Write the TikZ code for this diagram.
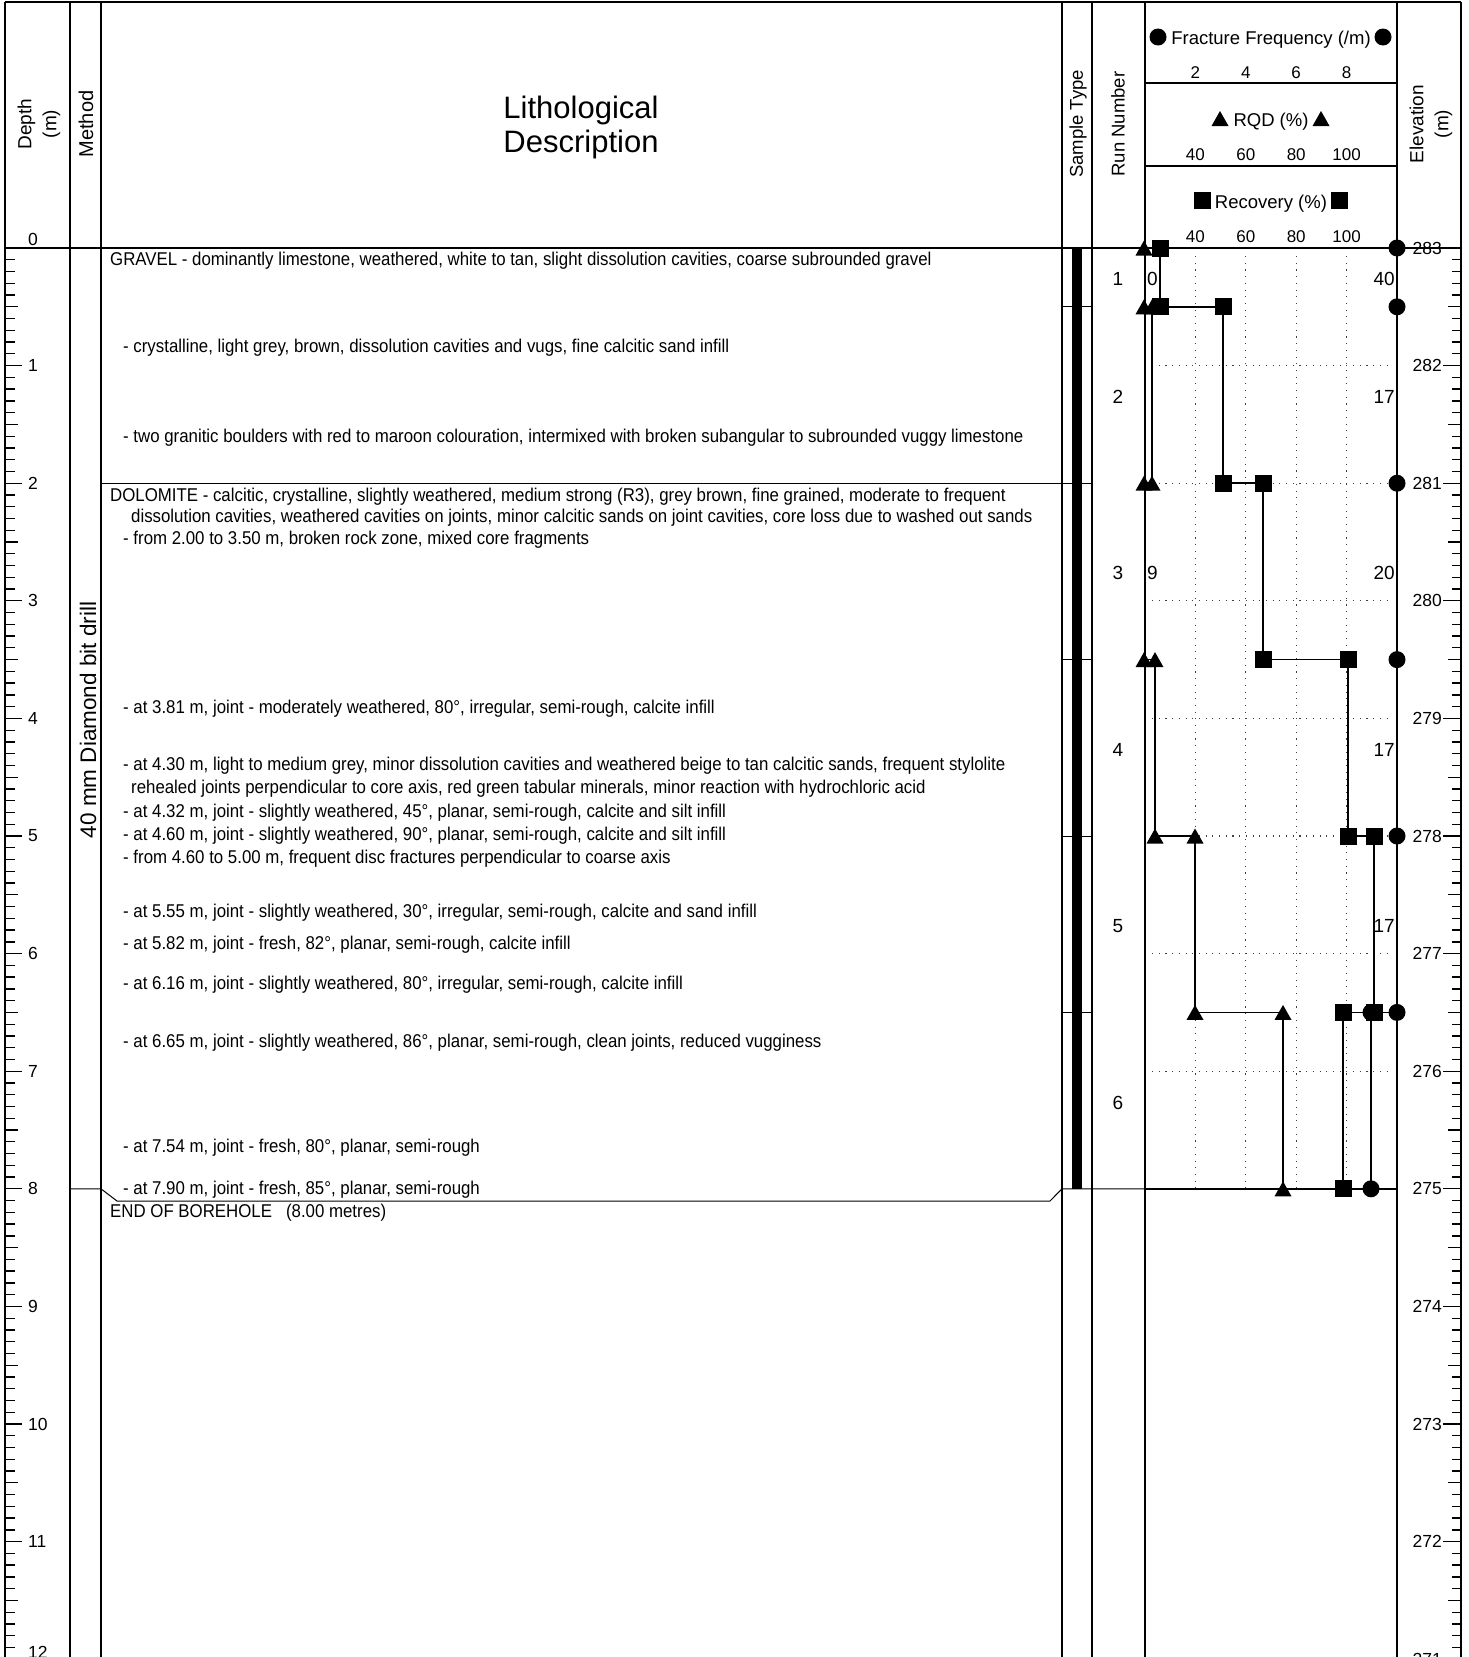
\documentclass[tikz,border=0pt]{standalone}
\usepackage{fontspec}
\setmainfont{Liberation Sans}
\newfontfamily\narrowfont{Liberation Sans}[FakeStretch=0.91]
\newcommand\fsz[2]{\fontsize{#1}{#2}\selectfont}
\newcommand\msq[2]{\fill (#1,#2) ++(-8.5,-8.5) rectangle ++(17,17);}
\newcommand\mci[2]{\fill (#1,#2) circle[radius=8.5];}
\newcommand\mtr[2]{\fill (#1,#2) ++(0,-7.5) -- ++(8.5,15) -- ++(-17,0) -- cycle;}
\begin{document}
\begin{tikzpicture}[x=1pt,y=-1pt,
  frame/.style={line width=2pt},
  thinline/.style={line width=1pt},
  dotgrid/.style={line width=1.1pt, black!75, dash pattern=on 1.1pt off 5.6pt},
  dataline/.style={line width=1.6pt},
  lbl/.style={inner sep=0, font=\fsz{17.5}{20}},
  hdr/.style={inner sep=0, font=\fsz{19}{25}, align=center},
  num/.style={inner sep=0, font=\fsz{17}{20}, anchor=base},
  val/.style={inner sep=0, font=\fsz{19}{22}},
  desc/.style={anchor=base west, inner sep=0, font=\narrowfont\fsz{18.5}{22}}]
\useasboundingbox (0,0) rectangle (1468,1657);
\clip (0,0) rectangle (1468,1657);

% ---------- frame and columns ----------
\draw[frame] (5,1.5) -- (1461,1.5);
\foreach \x in {5,70,101,1062,1092,1145,1397,1461}
  {\draw[frame] (\x,1.5) -- (\x,1660);}
\draw[frame] (5,248) -- (1461,248);
\draw[line width=1.5pt] (1145,83) -- (1397,83);
\draw[line width=1.5pt] (1145,166) -- (1397,166);

% ---------- depth / elevation ticks ----------
\foreach \i in {1,...,120} {
  \pgfmathsetmacro\yy{248+11.76*\i}
  \pgfmathsetmacro\ll{ifthenelse(mod(\i,10)==0,17,ifthenelse(mod(\i,5)==0,13,10))}
  \pgfmathsetmacro\rl{ifthenelse(mod(\i,10)==0,18,ifthenelse(mod(\i,5)==0,13,9))}
  \draw[line width=1.3pt] (5,\yy) -- ++(\ll,0);
  \draw[line width=1.3pt] (1461,\yy) -- ++(-\rl,0);
}
\node[lbl, anchor=south west] (dl0) at (28,246) {0};
\foreach \d in {1,...,11}
  {\node[lbl, anchor=west] (dl\d) at (28,{248+117.6*\d}) {\d};}
\node[lbl, anchor=south west] (dl12) at (28,1659) {12};
\foreach \d [evaluate=\d as \e using int(283-\d)] in {0,...,12}
  {\node[lbl, anchor=east] (el\d) at (1442,{248+117.6*\d}) {\e};}

% ---------- headers ----------
\node[hdr, rotate=90] (hdepth) at (39,124) {Depth\\(m)};
\node[hdr, rotate=90, font=\fsz{20}{25}] (hmethod) at (86,124) {Method};
\node[hdr, font=\fsz{31}{34}] (hlith) at (581,127) {Lithological\\Description};
\node[hdr, rotate=90, font=\fsz{18.5}{25}] (hsample) at (1078,124) {Sample Type};
\node[hdr, rotate=90, font=\fsz{18.5}{25}] (hrun) at (1118,124) {Run Number};
\node[hdr, rotate=90] (helev) at (1431,124) {Elevation\\(m)};

\node[anchor=base, inner sep=0, font=\fsz{18.5}{22}] (hff) at (1271,44) {Fracture Frequency (/m)};
\mci{1158}{37} \mci{1383}{37}
\node[num] (ff2) at (1195.4,78) {2};
\node[num] (ff4) at (1245.8,78) {4};
\node[num] (ff6) at (1296.2,78) {6};
\node[num] (ff8) at (1346.6,78) {8};
\node[anchor=base, inner sep=0, font=\fsz{18.5}{22}] (hrqd) at (1271,126) {RQD (\%)};
\mtr{1220}{118.5} \mtr{1321}{118.5}
\node[num] (rq40) at (1195.4,160) {40};
\node[num] (rq60) at (1245.8,160) {60};
\node[num] (rq80) at (1296.2,160) {80};
\node[num] (rq100) at (1346.6,160) {100};
\node[anchor=base, inner sep=0, font=\fsz{18.5}{22}] (hrec) at (1271,208) {Recovery (\%)};
\msq{1202}{200.5} \msq{1339}{200.5}
\node[num] (rc40) at (1195.4,242) {40};
\node[num] (rc60) at (1245.8,242) {60};
\node[num] (rc80) at (1296.2,242) {80};
\node[num] (rc100) at (1346.6,242) {100};

% ---------- method ----------
\node[inner sep=0, rotate=90, font=\fsz{22.5}{25}] (method) at (88,720) {40 mm Diamond bit drill};

% ---------- lithology ----------
\draw[thinline] (101,483.2) -- (1062,483.2);
\draw[thinline] (70,1188.8) -- (101,1188.8) -- (117,1201) -- (1050,1201) -- (1062,1188.8) -- (1145,1188.8);

\node[desc] (t1) at (110,265) {GRAVEL - dominantly limestone, weathered, white to tan, slight dissolution cavities, coarse subrounded gravel};
\node[desc] (t2) at (123,352) {- crystalline, light grey, brown, dissolution cavities and vugs, fine calcitic sand infill};
\node[desc] (t3) at (123,442) {- two granitic boulders with red to maroon colouration, intermixed with broken subangular to subrounded vuggy limestone};
\node[desc] (t4) at (110,501) {DOLOMITE - calcitic, crystalline, slightly weathered, medium strong (R3), grey brown, fine grained, moderate to frequent};
\node[desc] (t5) at (131,522) {dissolution cavities, weathered cavities on joints, minor calcitic sands on joint cavities, core loss due to washed out sands};
\node[desc] (t6) at (123,544) {- from 2.00 to 3.50 m, broken rock zone, mixed core fragments};
\node[desc] (t7) at (123,713) {- at 3.81 m, joint - moderately weathered, 80°, irregular, semi-rough, calcite infill};
\node[desc] (t8) at (123,770) {- at 4.30 m, light to medium grey, minor dissolution cavities and weathered beige to tan calcitic sands, frequent stylolite};
\node[desc] (t9) at (131,793) {rehealed joints perpendicular to core axis, red green tabular minerals, minor reaction with hydrochloric acid};
\node[desc] (t10) at (123,817) {- at 4.32 m, joint - slightly weathered, 45°, planar, semi-rough, calcite and silt infill};
\node[desc] (t11) at (123,840) {- at 4.60 m, joint - slightly weathered, 90°, planar, semi-rough, calcite and silt infill};
\node[desc] (t12) at (123,863) {- from 4.60 to 5.00 m, frequent disc fractures perpendicular to coarse axis};
\node[desc] (t13) at (123,917) {- at 5.55 m, joint - slightly weathered, 30°, irregular, semi-rough, calcite and sand infill};
\node[desc] (t14) at (123,949) {- at 5.82 m, joint - fresh, 82°, planar, semi-rough, calcite infill};
\node[desc] (t15) at (123,989) {- at 6.16 m, joint - slightly weathered, 80°, irregular, semi-rough, calcite infill};
\node[desc] (t16) at (123,1047) {- at 6.65 m, joint - slightly weathered, 86°, planar, semi-rough, clean joints, reduced vugginess};
\node[desc] (t17) at (123,1152) {- at 7.54 m, joint - fresh, 80°, planar, semi-rough};
\node[desc] (t18) at (123,1194) {- at 7.90 m, joint - fresh, 85°, planar, semi-rough};
\node[desc] (t19) at (110,1217) {END OF BOREHOLE\ \ \ (8.00 metres)};

% ---------- sample type ----------
\fill (1072,248) rectangle (1082,1188.8);
\foreach \yy in {306.8,483.2,659.6,836,1012.4}
  {\draw[thinline] (1062,\yy) -- (1092,\yy);}

% ---------- run numbers ----------
\node[val] (r1) at (1118,279.4) {1};
\node[val] (r2) at (1118,397) {2};
\node[val] (r3) at (1118,573.4) {3};
\node[val] (r4) at (1118,749.8) {4};
\node[val] (r5) at (1118,926.2) {5};
\node[val] (r6) at (1118,1102.6) {6};

% ---------- graph grid ----------
\foreach \x in {1195.4,1245.8,1296.2,1346.6}
  {\draw[dotgrid] (\x,256) -- (\x,1188);}
\foreach \d in {1,...,7}
  {\draw[dotgrid] (1152,{248+117.6*\d}) -- (1392,{248+117.6*\d});}
\draw[line width=1.5pt] (1145,1188.8) -- (1397,1188.8);

% ---------- data ----------
\draw[dataline] (1397,248) -- (1397,1012.4) -- (1371,1012.4) -- (1371,1188.8);
\draw[dataline] (1145,248) -- (1145,306.8) -- (1152,306.8) -- (1152,483.2) -- (1145,483.2) -- (1145,659.6) -- (1155,659.6) -- (1155,836) -- (1195,836) -- (1195,1012.4) -- (1283,1012.4) -- (1283,1188.8);
\draw[dataline] (1160,248) -- (1160,306.8) -- (1223,306.8) -- (1223,483.2) -- (1263,483.2) -- (1263,659.6) -- (1348,659.6) -- (1348,836) -- (1374,836) -- (1374,1012.4) -- (1343,1012.4) -- (1343,1188.8);

\foreach \p/\q in {1397/248,1397/306.8,1397/483.2,1397/659.6,1397/836,1397/1012.4,1371/1012.4,1371/1188.8}
  {\mci{\p}{\q}}
\foreach \p/\q in {1144/248,1144/306.8,1152/306.8,1152/483.2,1144/483.2,1144/659.6,1155/659.6,1155/836,1195/836,1195/1012.4,1283/1012.4,1283/1188.8}
  {\mtr{\p}{\q}}
\foreach \p/\q in {1160/248,1160/306.8,1223/306.8,1223/483.2,1263/483.2,1263/659.6,1348/659.6,1348/836,1374/836,1374/1012.4,1343/1012.4,1343/1188.8}
  {\msq{\p}{\q}}

% ---------- values ----------
\node[val, anchor=west] (v1a) at (1147,279.4) {0};
\node[val, anchor=east] (v1b) at (1395,279.4) {40};
\node[val, anchor=east] (v2b) at (1395,397) {17};
\node[val, anchor=west] (v3a) at (1147,573.4) {9};
\node[val, anchor=east] (v3b) at (1395,573.4) {20};
\node[val, anchor=east] (v4b) at (1395,749.8) {17};
\node[val, anchor=east] (v5b) at (1395,926.2) {17};
\end{tikzpicture}
\end{document}
